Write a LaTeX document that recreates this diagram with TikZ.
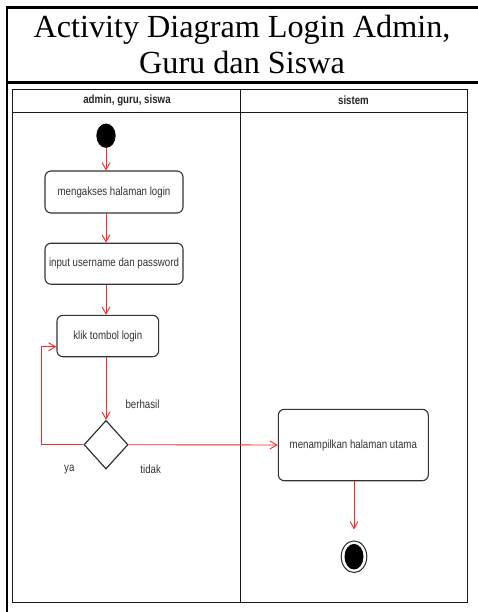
\documentclass[tikz,border=0pt]{standalone}
\usepackage{fontspec}
\setmainfont{Liberation Serif}
\newfontfamily\labfont{Liberation Sans}
\usetikzlibrary{shapes.geometric,arrows.meta}
\newcommand\mytxt[1]{\scalebox{1}[1.22]{#1}}
\begin{document}
\begin{tikzpicture}[x=1pt,y=-1pt,
  lbl/.style={font=\labfont\fontsize{9.7}{11}\selectfont, text=black!80, inner sep=0},
  hdr/.style={font=\labfont\bfseries\fontsize{9.7}{11}\selectfont, text=black!85, inner sep=0},
  act/.style={draw=black!80, line width=1.1pt, rounded corners=6pt, inner sep=0,
              font=\labfont\fontsize{9.7}{11}\selectfont, text=black!80},
  flow/.style={draw=red!85!white, line width=0.9pt, -{Straight Barb[length=7pt,width=8pt]}},
  frame/.style={line width=2.6pt, black},
  lane/.style={line width=1pt, black!90}
]
\useasboundingbox (0,0) rectangle (478,612);
\fill[white] (0,0) rectangle (478,612);
% outer frame
\draw[frame] (7,612) -- (7,7.3) -- (478,7.3);
\draw[frame] (7,82.7) -- (478,82.7);
\node[font=\fontsize{32.2}{36}\selectfont, anchor=base, inner sep=0] (t1) at (242,37.3) {Activity Diagram Login Admin,};
\node[font=\fontsize{32.2}{36}\selectfont, anchor=base, inner sep=0] (t2) at (242,74) {Guru dan Siswa};
% swimlanes
\draw[lane] (12.5,89.3) rectangle (467.3,602.7);
\draw[lane] (12.5,113) -- (467.3,113);
\draw[lane] (240,89.3) -- (240,602.7);
\node[hdr] (h1) at (127,100.7) {\mytxt{admin, guru, siswa}};
\node[hdr] (h2) at (353.5,100.7) {\mytxt{sistem}};
% nodes
\node[ellipse, fill=black, minimum width=19.3pt, minimum height=24.3pt, inner sep=0] (start) at (106,135.7) {};
\node[act, minimum width=138pt, minimum height=42pt] (b1) at (114,192) {\mytxt{mengakses halaman login}};
\node[act, minimum width=138pt, minimum height=41pt] (b2) at (114,263.7) {\mytxt{input username dan password}};
\node[act, minimum width=101.7pt, minimum height=41.4pt] (b3) at (107.8,336) {\mytxt{klik tombol login}};
\node[diamond, draw=black!85, line width=1.1pt, minimum width=44pt, minimum height=48.6pt, inner sep=0] (d) at (106,444.7) {};
\node[act, minimum width=150pt, minimum height=71.4pt] (b4) at (353.3,445) {\mytxt{menampilkan halaman utama}};
\node[ellipse, draw=black!85, line width=1pt, minimum width=25.6pt, minimum height=31.6pt, inner sep=0] (end) at (354,556.7) {};
\fill[black] (end.center) ellipse [x radius=9.5pt, y radius=12.8pt];
\coordinate (loop) at (41.3,346.7);
% labels
\node[lbl] (lb1) at (142.5,404.3) {\mytxt{berhasil}};
\node[lbl] (lb2) at (69.3,469.3) {\mytxt{ya}};
\node[lbl] (lb3) at (150.7,469.3) {\mytxt{tidak}};
% connectors
\draw[flow] (start.south) -- (start |- b1.north);
\draw[flow] (b1.south -| start) -- (b2.north -| start);
\draw[flow] (b2.south -| start) -- (b3.north -| start);
\draw[flow] (b3.south -| d) -- (d.north);
\draw[flow] (d.west) -| (loop) -- (b3.west |- loop);
\draw[flow] (d.east) -- (b4.west);
\draw[flow, shorten >=11pt] (b4.south -| end) -- (end.north);
\end{tikzpicture}
\end{document}
